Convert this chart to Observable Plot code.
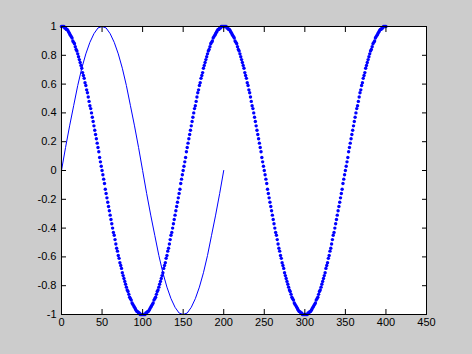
<!DOCTYPE html>
<html><head><meta charset="utf-8">
<script src="https://cdn.jsdelivr.net/npm/d3@7"></script>
<script src="https://cdn.jsdelivr.net/npm/@observablehq/plot@0.6"></script>
<style>
html,body{margin:0;padding:0;background:#cccccc;}
#chart{width:472px;height:354px;}
</style></head><body><div id="chart"></div>
<script>
const xTicks = [0, 50, 100, 150, 200, 250, 300, 350, 400, 450];
const yTicks = [-1, -0.8, -0.6, -0.4, -0.2, 0, 0.2, 0.4, 0.6, 0.8, 1];

// thin line series (x every 5 units)
const sineX = [0,5,10,15,20,25,30,35,40,45,50,55,60,65,70,75,80,85,90,95,100,105,110,115,120,125,130,135,140,145,150,155,160,165,170,175,180,185,190,195,200];
const sineY = [0,0.16,0.31,0.45,0.59,0.71,0.81,0.89,0.95,0.99,1,0.99,0.95,0.89,0.81,0.71,0.59,0.45,0.31,0.16,0,-0.16,-0.31,-0.45,-0.59,-0.71,-0.81,-0.89,-0.95,-0.99,-1,-0.99,-0.95,-0.89,-0.81,-0.71,-0.59,-0.45,-0.31,-0.16,0];

// dotted series, one dot per unit from 0 to 400
const dotY = [
1,1,1,1,0.99,0.99,0.98,0.98,0.97,0.96,0.95,0.94,0.93,0.92,0.9,0.89,0.88,0.86,0.84,0.83,0.81,0.79,0.77,0.75,0.73,0.71,0.68,0.66,0.64,0.61,0.59,0.56,0.54,0.51,0.48,0.45,0.43,0.4,0.37,0.34,0.31,0.28,0.25,0.22,0.19,0.16,0.13,0.09,0.06,0.03,0,
-0.03,-0.06,-0.09,-0.13,-0.16,-0.19,-0.22,-0.25,-0.28,-0.31,-0.34,-0.37,-0.4,-0.43,-0.45,-0.48,-0.51,-0.54,-0.56,-0.59,-0.61,-0.64,-0.66,-0.68,-0.71,-0.73,-0.75,-0.77,-0.79,-0.81,-0.83,-0.84,-0.86,-0.88,-0.89,-0.9,-0.92,-0.93,-0.94,-0.95,-0.96,-0.97,-0.98,-0.98,-0.99,-0.99,-1,-1,-1,-1,
-1,-1,-1,-0.99,-0.99,-0.98,-0.98,-0.97,-0.96,-0.95,-0.94,-0.93,-0.92,-0.9,-0.89,-0.88,-0.86,-0.84,-0.83,-0.81,-0.79,-0.77,-0.75,-0.73,-0.71,-0.68,-0.66,-0.64,-0.61,-0.59,-0.56,-0.54,-0.51,-0.48,-0.45,-0.43,-0.4,-0.37,-0.34,-0.31,-0.28,-0.25,-0.22,-0.19,-0.16,-0.13,-0.09,-0.06,-0.03,0,
0.03,0.06,0.09,0.13,0.16,0.19,0.22,0.25,0.28,0.31,0.34,0.37,0.4,0.43,0.45,0.48,0.51,0.54,0.56,0.59,0.61,0.64,0.66,0.68,0.71,0.73,0.75,0.77,0.79,0.81,0.83,0.84,0.86,0.88,0.89,0.9,0.92,0.93,0.94,0.95,0.96,0.97,0.98,0.98,0.99,0.99,1,1,1,1,
1,1,1,0.99,0.99,0.98,0.98,0.97,0.96,0.95,0.94,0.93,0.92,0.9,0.89,0.88,0.86,0.84,0.83,0.81,0.79,0.77,0.75,0.73,0.71,0.68,0.66,0.64,0.61,0.59,0.56,0.54,0.51,0.48,0.45,0.43,0.4,0.37,0.34,0.31,0.28,0.25,0.22,0.19,0.16,0.13,0.09,0.06,0.03,0,
-0.03,-0.06,-0.09,-0.13,-0.16,-0.19,-0.22,-0.25,-0.28,-0.31,-0.34,-0.37,-0.4,-0.43,-0.45,-0.48,-0.51,-0.54,-0.56,-0.59,-0.61,-0.64,-0.66,-0.68,-0.71,-0.73,-0.75,-0.77,-0.79,-0.81,-0.83,-0.84,-0.86,-0.88,-0.89,-0.9,-0.92,-0.93,-0.94,-0.95,-0.96,-0.97,-0.98,-0.98,-0.99,-0.99,-1,-1,-1,-1,
-1,-1,-1,-0.99,-0.99,-0.98,-0.98,-0.97,-0.96,-0.95,-0.94,-0.93,-0.92,-0.9,-0.89,-0.88,-0.86,-0.84,-0.83,-0.81,-0.79,-0.77,-0.75,-0.73,-0.71,-0.68,-0.66,-0.64,-0.61,-0.59,-0.56,-0.54,-0.51,-0.48,-0.45,-0.43,-0.4,-0.37,-0.34,-0.31,-0.28,-0.25,-0.22,-0.19,-0.16,-0.13,-0.09,-0.06,-0.03,0,
0.03,0.06,0.09,0.13,0.16,0.19,0.22,0.25,0.28,0.31,0.34,0.37,0.4,0.43,0.45,0.48,0.51,0.54,0.56,0.59,0.61,0.64,0.66,0.68,0.71,0.73,0.75,0.77,0.79,0.81,0.83,0.84,0.86,0.88,0.89,0.9,0.92,0.93,0.94,0.95,0.96,0.97,0.98,0.98,0.99,0.99,1,1,1,1
];

const sine = sineX.map((x, i) => ({x, y: sineY[i]}));
const dots = dotY.map((y, i) => ({x: i, y}));
const fmt = d => String(+(+d).toFixed(1));
const blank = () => "";

const plot = Plot.plot({
  width: 472, height: 354,
  marginLeft: 61, marginRight: 46, marginTop: 26, marginBottom: 40,
  style: {background: "#cccccc", color: "black", fontFamily: "'Liberation Sans', Arial, sans-serif", fontSize: "11px", overflow: "visible"},
  x: {domain: [0, 450]},
  y: {domain: [-1, 1]},
  marks: [
    Plot.frame({fill: "white"}),
    Plot.line(sine, {x: "x", y: "y", stroke: "#0000ff", strokeWidth: 1}),
    Plot.dot(dots, {x: "x", y: "y", r: 1.7, fill: "#0000ff", stroke: "none"}),
    Plot.axisX(xTicks, {anchor: "bottom", tickSize: 0, tickPadding: 4, tickFormat: fmt, label: null}),
    Plot.axisX(xTicks, {anchor: "bottom", tickSize: -5, tickFormat: blank, label: null}),
    Plot.axisX(xTicks, {anchor: "top", tickSize: -5, tickFormat: blank, label: null}),
    Plot.axisY(yTicks, {anchor: "left", tickSize: 0, tickPadding: 5, tickFormat: fmt, label: null}),
    Plot.axisY(yTicks, {anchor: "left", tickSize: -5, tickFormat: blank, label: null}),
    Plot.axisY(yTicks, {anchor: "right", tickSize: -5, tickFormat: blank, label: null}),
    Plot.frame({stroke: "black", strokeWidth: 1})
  ]
});
document.getElementById("chart").appendChild(plot);
</script></body></html>
